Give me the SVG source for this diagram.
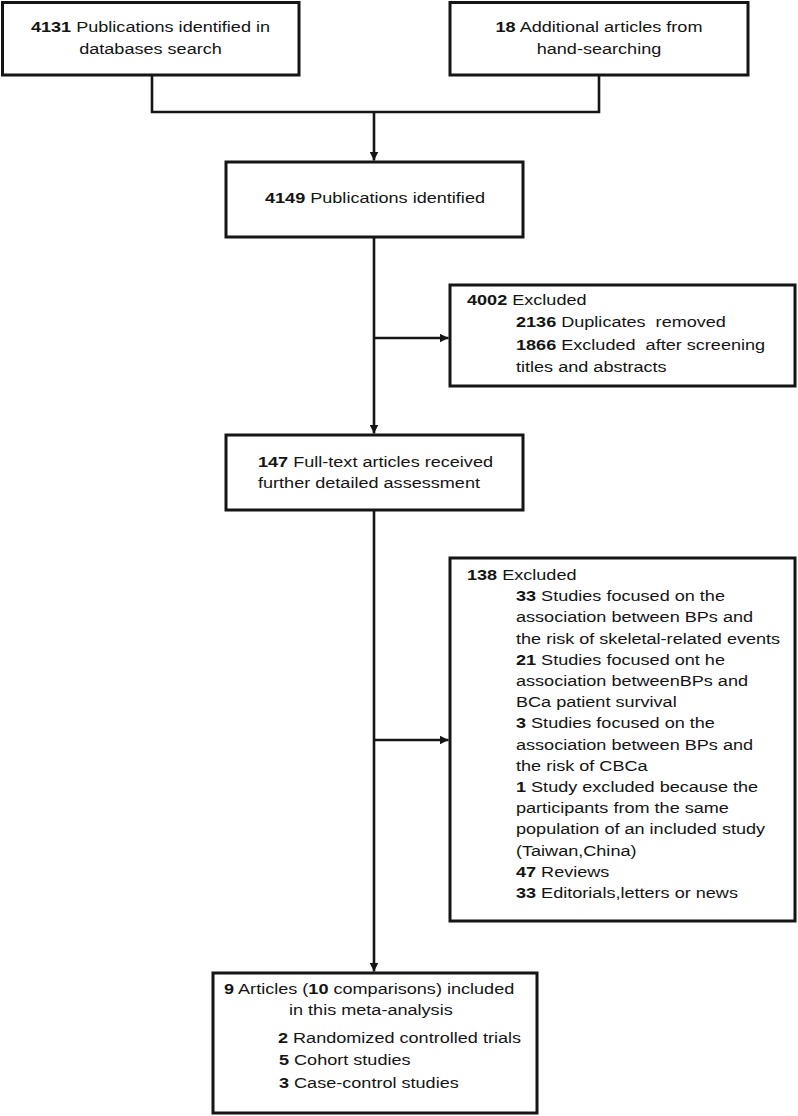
<svg xmlns="http://www.w3.org/2000/svg" width="798" height="1116" viewBox="0 0 798 1116">
<style>
  .box { fill: #ffffff; stroke: #151515; stroke-width: 3; }
  .ln { fill: none; stroke: #151515; stroke-width: 2.6; }
  text { font-family: "Liberation Sans", Arial, sans-serif; font-size: 15.2px; fill: #141414; }
  .mid { text-anchor: middle; }
  .b { font-weight: bold; }
</style>
<defs>
  <marker id="ah" viewBox="0 0 10 10" refX="10" refY="5" markerWidth="9" markerHeight="9" markerUnits="userSpaceOnUse" orient="auto">
    <path d="M0,0 L10,5 L0,10 z" fill="#151515"/>
  </marker>
</defs>

<g id="connectors">
  <path class="ln" d="M152,75 V112 H599 V75"/>
  <path class="ln" d="M374,112 V160.5" marker-end="url(#ah)"/>
  <path class="ln" d="M374,237 V433.5" marker-end="url(#ah)"/>
  <path class="ln" d="M374,338 H448.5" marker-end="url(#ah)"/>
  <path class="ln" d="M374,510 V971.5" marker-end="url(#ah)"/>
  <path class="ln" d="M374,740 H448.5" marker-end="url(#ah)"/>
</g>

<g id="node-db">
  <rect class="box" x="2.5" y="2.5" width="296.5" height="72.5"/>
  <text class="mid" transform="matrix(1.19 0 0 1 150.5 32)"><tspan class="b">4131</tspan> Publications identified in</text>
  <text class="mid" transform="matrix(1.19 0 0 1 150.5 54)">databases search</text>
</g>

<g id="node-hand">
  <rect class="box" x="450" y="2.5" width="298" height="72.5"/>
  <text class="mid" transform="matrix(1.19 0 0 1 599 32)"><tspan class="b">18</tspan> Additional articles from</text>
  <text class="mid" transform="matrix(1.19 0 0 1 599 54)">hand-searching</text>
</g>

<g id="node-identified">
  <rect class="box" x="226" y="162" width="297" height="75"/>
  <text class="mid" transform="matrix(1.19 0 0 1 375 203)"><tspan class="b">4149</tspan> Publications identified</text>
</g>

<g id="node-excl1">
  <rect class="box" x="450" y="285" width="345" height="101"/>
  <text transform="matrix(1.19 0 0 1 467 305)"><tspan class="b">4002</tspan> Excluded</text>
  <text xml:space="preserve" transform="matrix(1.19 0 0 1 516 327)"><tspan class="b">2136</tspan> Duplicates  removed</text>
  <text xml:space="preserve" transform="matrix(1.19 0 0 1 516 350)"><tspan class="b">1866</tspan> Excluded  after screening</text>
  <text transform="matrix(1.19 0 0 1 516 372)">titles and abstracts</text>
</g>

<g id="node-fulltext">
  <rect class="box" x="226" y="435" width="297" height="75"/>
  <text transform="matrix(1.19 0 0 1 258 467)"><tspan class="b">147</tspan> Full-text articles received</text>
  <text transform="matrix(1.19 0 0 1 258 488)">further detailed assessment</text>
</g>

<g id="node-excl2">
  <rect class="box" x="450" y="558" width="345" height="363"/>
  <text transform="matrix(1.19 0 0 1 467 580)"><tspan class="b">138</tspan> Excluded</text>
  <text transform="matrix(1.19 0 0 1 516 601.2)"><tspan class="b">33</tspan> Studies focused on the</text>
  <text transform="matrix(1.19 0 0 1 516 622.4)">association between BPs and</text>
  <text transform="matrix(1.19 0 0 1 516 643.6)">the risk of skeletal-related events</text>
  <text transform="matrix(1.19 0 0 1 516 664.8)"><tspan class="b">21</tspan> Studies focused ont he</text>
  <text transform="matrix(1.19 0 0 1 516 686)">association betweenBPs and</text>
  <text transform="matrix(1.19 0 0 1 516 707.2)">BCa patient survival</text>
  <text transform="matrix(1.19 0 0 1 516 728.4)"><tspan class="b">3</tspan> Studies focused on the</text>
  <text transform="matrix(1.19 0 0 1 516 749.6)">association between BPs and</text>
  <text transform="matrix(1.19 0 0 1 516 770.8)">the risk of CBCa</text>
  <text transform="matrix(1.19 0 0 1 516 792)"><tspan class="b">1</tspan> Study excluded because the</text>
  <text transform="matrix(1.19 0 0 1 516 813.2)">participants from the same</text>
  <text transform="matrix(1.19 0 0 1 516 834.4)">population of an included study</text>
  <text transform="matrix(1.19 0 0 1 516 855.6)">(Taiwan,China)</text>
  <text transform="matrix(1.19 0 0 1 516 876.8)"><tspan class="b">47</tspan> Reviews</text>
  <text transform="matrix(1.19 0 0 1 516 898)"><tspan class="b">33</tspan> Editorials,letters or news</text>
</g>

<g id="node-included">
  <rect class="box" x="213" y="973" width="324" height="140"/>
  <text transform="matrix(1.19 0 0 1 224 994)"><tspan class="b">9</tspan> Articles (<tspan class="b">10</tspan> comparisons) included</text>
  <text transform="matrix(1.19 0 0 1 289 1015)">in this meta-analysis</text>
  <text transform="matrix(1.19 0 0 1 278 1043)"><tspan class="b">2</tspan> Randomized controlled trials</text>
  <text transform="matrix(1.19 0 0 1 279 1065)"><tspan class="b">5</tspan> Cohort studies</text>
  <text transform="matrix(1.19 0 0 1 279 1088)"><tspan class="b">3</tspan> Case-control studies</text>
</g>
</svg>
